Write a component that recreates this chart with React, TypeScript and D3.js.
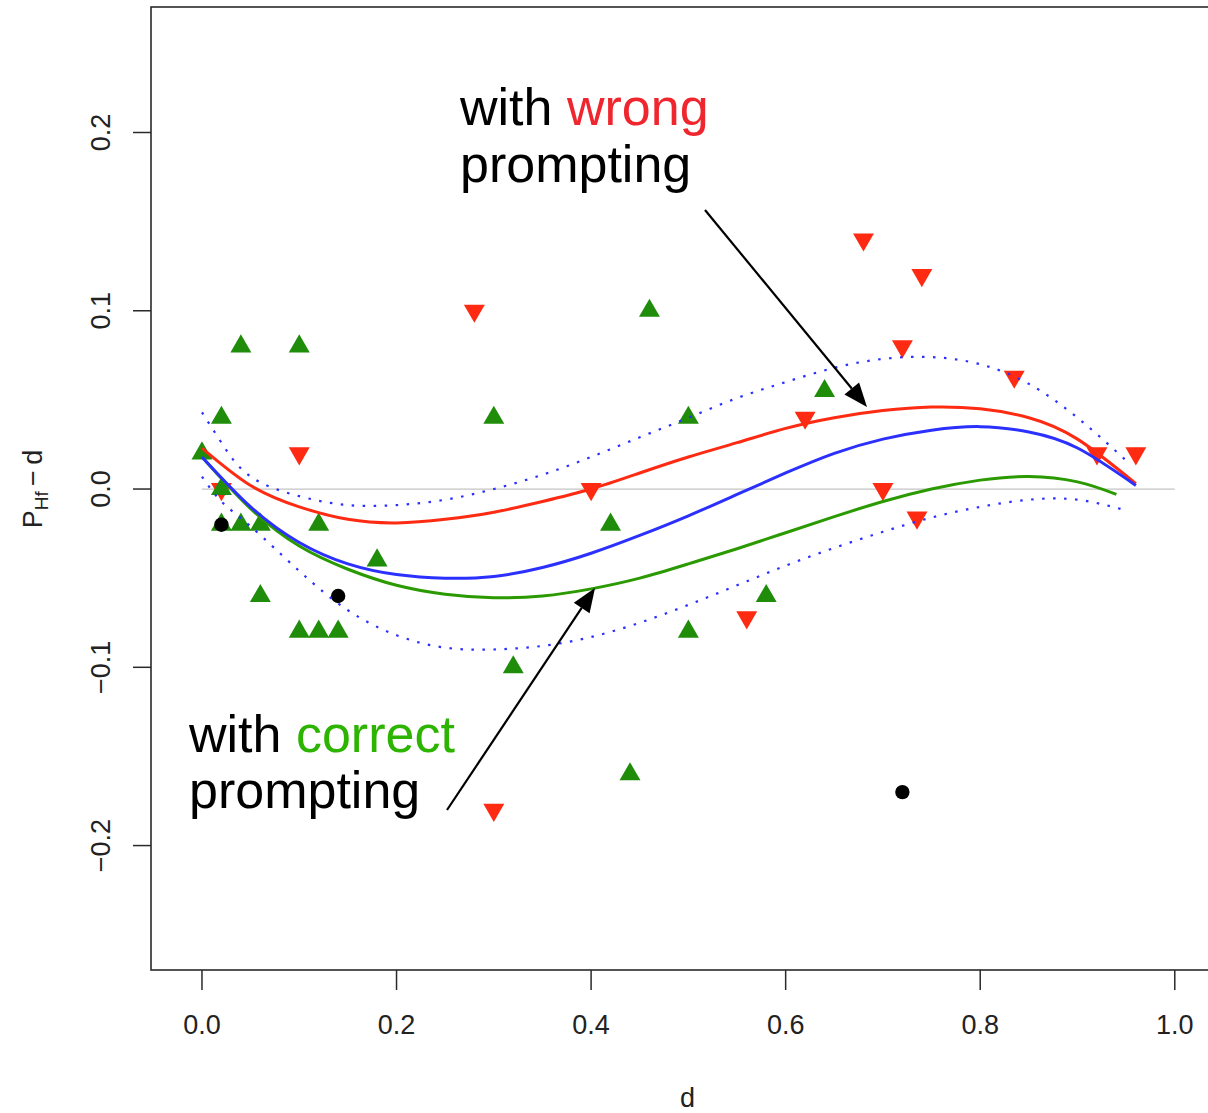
import React from "react";
import * as d3 from "d3";

// ---------- data ----------
const xTicks = [0, 0.2, 0.4, 0.6, 0.8, 1.0];
const xTickLabels = ["0.0", "0.2", "0.4", "0.6", "0.8", "1.0"];
const yTicks = [-0.2, -0.1, 0, 0.1, 0.2];
const yTickLabels = ["\u22120.2", "\u22120.1", "0.0", "0.1", "0.2"];

const wrongD = [0.02, 0.10, 0.28, 0.30, 0.40, 0.56, 0.62, 0.68, 0.70, 0.72, 0.735, 0.74, 0.835, 0.92, 0.96];
const wrongV = [0.0, 0.02, 0.10, -0.18, 0.0, -0.072, 0.04, 0.14, 0.0, 0.08, -0.016, 0.12, 0.063, 0.02, 0.02];

const correctD = [0.0, 0.02, 0.04, 0.10, 0.02, 0.02, 0.04, 0.06, 0.06, 0.10, 0.12, 0.14, 0.12, 0.18, 0.30, 0.32, 0.42, 0.44, 0.46, 0.50, 0.50, 0.58, 0.64];
const correctV = [0.02, 0.04, 0.08, 0.08, 0.0, -0.02, -0.02, -0.02, -0.06, -0.08, -0.08, -0.08, -0.02, -0.04, 0.04, -0.10, -0.02, -0.16, 0.10, 0.04, -0.08, -0.06, 0.055];

const noneD = [0.02, 0.14, 0.72];
const noneV = [-0.02, -0.06, -0.17];

const fitD = [0, 0.05, 0.1, 0.15, 0.2, 0.25, 0.3, 0.35, 0.4, 0.45, 0.5, 0.55, 0.6, 0.65, 0.7, 0.75, 0.8, 0.85, 0.9, 0.96];
const blueFit = [0.018, -0.010, -0.030, -0.042, -0.048, -0.050, -0.049, -0.044, -0.036, -0.026, -0.015, -0.003, 0.009, 0.020, 0.028, 0.033, 0.035, 0.032, 0.023, 0.002];
const redFit = [0.023, 0.002, -0.010, -0.017, -0.019, -0.017, -0.013, -0.007, 0.000, 0.009, 0.018, 0.026, 0.034, 0.040, 0.044, 0.046, 0.045, 0.040, 0.028, 0.003];

const greenD = [0, 0.05, 0.1, 0.15, 0.2, 0.25, 0.3, 0.35, 0.4, 0.45, 0.5, 0.55, 0.6, 0.65, 0.7, 0.75, 0.8, 0.85, 0.9, 0.94];
const greenFit = [0.018, -0.011, -0.032, -0.045, -0.054, -0.059, -0.061, -0.060, -0.056, -0.050, -0.042, -0.0335, -0.0245, -0.0155, -0.007, 0.000, 0.005, 0.007, 0.004, -0.003];

const bandD = [0, 0.02, 0.05, 0.1, 0.15, 0.2, 0.25, 0.3, 0.35, 0.4, 0.45, 0.5, 0.55, 0.6, 0.65, 0.7, 0.75, 0.8, 0.85, 0.9, 0.95];
const bandUpper = [0.043, 0.026, 0.007, -0.004, -0.009, -0.009, -0.006, 0.0, 0.008, 0.018, 0.029, 0.040, 0.051, 0.060, 0.068, 0.073, 0.074, 0.070, 0.059, 0.040, 0.016];
const bandLower = [0.007, -0.007, -0.021, -0.046, -0.068, -0.082, -0.089, -0.090, -0.088, -0.083, -0.075, -0.065, -0.054, -0.043, -0.033, -0.024, -0.016, -0.010, -0.006, -0.006, -0.012];

// ---------- layout ----------
const W = 1208;
const H = 1113;
const LEFT = 151;
const RIGHT = 1224;
const TOP = 7;
const BOTTOM = 970;

const RED = "#ff2a12";
const GREEN = "#1f8c0a";
const GREEN_LINE = "#2a9a00";
const BLUE = "#2b30ff";

export default function App() {
  const x = d3.scaleLinear().domain([-0.0524, 1.0506]).range([LEFT, RIGHT]);
  const y = d3.scaleLinear().domain([-0.2698, 0.2704]).range([BOTTOM, TOP]);

  const mk = (ds: number[], vs: number[]) => {
    const line = d3
      .line<number>()
      .x((_, i) => x(ds[i]))
      .y((v) => y(v))
      .curve(d3.curveNatural);
    return line(vs) || "";
  };

  const tri = d3.symbol(d3.symbolTriangle, 190)() || "";

  const arrow = (x1: number, y1: number, x2: number, y2: number) => {
    const ang = Math.atan2(y2 - y1, x2 - x1);
    const len = 24;
    const hw = 9.5;
    const bx = x2 - len * Math.cos(ang);
    const by = y2 - len * Math.sin(ang);
    const px = -Math.sin(ang) * hw;
    const py = Math.cos(ang) * hw;
    return (
      <g>
        <line x1={x1} y1={y1} x2={bx} y2={by} stroke="#000" strokeWidth={2.2} />
        <polygon points={`${x2},${y2} ${bx + px},${by + py} ${bx - px},${by - py}`} fill="#000" />
      </g>
    );
  };

  const font = "'Liberation Sans', Arial, Helvetica, sans-serif";

  return (
    <svg
      width={W}
      height={H}
      viewBox={`0 0 ${W} ${H}`}
      style={{ position: "absolute", left: 0, top: 0, background: "#fff" }}
      fontFamily={font}
    >
      <rect x={0} y={0} width={W} height={H} fill="#fff" />

      {/* zero line */}
      <line x1={x(0)} x2={x(1)} y1={y(0)} y2={y(0)} stroke="#c4c4c4" strokeWidth={1.2} />

      {/* points */}
      {wrongD.map((d, i) => (
        <path key={"r" + i} d={tri} transform={`translate(${x(d)},${y(wrongV[i])}) rotate(180)`} fill={RED} />
      ))}
      {correctD.map((d, i) => (
        <path key={"g" + i} d={tri} transform={`translate(${x(d)},${y(correctV[i])})`} fill={GREEN} />
      ))}
      {noneD.map((d, i) => (
        <circle key={"b" + i} cx={x(d)} cy={y(noneV[i])} r={7.2} fill="#000" />
      ))}

      {/* confidence band */}
      <path d={mk(bandD, bandUpper)} fill="none" stroke={BLUE} strokeWidth={2.2} strokeDasharray="2.5 8.5" />
      <path d={mk(bandD, bandLower)} fill="none" stroke={BLUE} strokeWidth={2.2} strokeDasharray="2.5 8.5" />

      {/* fits */}
      <path d={mk(fitD, redFit)} fill="none" stroke={RED} strokeWidth={3} />
      <path d={mk(greenD, greenFit)} fill="none" stroke={GREEN_LINE} strokeWidth={3} />
      <path d={mk(fitD, blueFit)} fill="none" stroke={BLUE} strokeWidth={3} />

      {/* box */}
      <rect x={LEFT} y={TOP} width={RIGHT - LEFT} height={BOTTOM - TOP} fill="none" stroke="#2a2a2a" strokeWidth={1.6} />

      {/* x axis */}
      {xTicks.map((t, i) => (
        <g key={"xt" + i}>
          <line x1={x(t)} x2={x(t)} y1={BOTTOM} y2={BOTTOM + 20} stroke="#2a2a2a" strokeWidth={1.5} />
          <text x={x(t)} y={1034} textAnchor="middle" fontSize={27} fill="#222">
            {xTickLabels[i]}
          </text>
        </g>
      ))}
      <text x={(LEFT + RIGHT) / 2} y={1107} textAnchor="middle" fontSize={27} fill="#222">
        d
      </text>

      {/* y axis */}
      {yTicks.map((t, i) => (
        <g key={"yt" + i}>
          <line x1={LEFT - 18} x2={LEFT} y1={y(t)} y2={y(t)} stroke="#2a2a2a" strokeWidth={1.5} />
          <text transform={`translate(110,${y(t)}) rotate(-90)`} textAnchor="middle" fontSize={27} fill="#222">
            {yTickLabels[i]}
          </text>
        </g>
      ))}
      <text transform={`translate(42,${y(0)}) rotate(-90)`} textAnchor="middle" fontSize={27} fill="#222">
        P
        <tspan fontSize={19} dy={6}>
          Hf
        </tspan>
        <tspan dy={-6}>{"\u2009\u2212\u2009d"}</tspan>
      </text>

      {/* annotations */}
      <text x={460} y={125} fontSize={52} fill="#000">
        with <tspan fill="#f0262e">wrong</tspan>
      </text>
      <text x={460} y={182} fontSize={52} fill="#000">
        prompting
      </text>
      <text x={189} y={752} fontSize={52} fill="#000">
        with <tspan fill="#2db400">correct</tspan>
      </text>
      <text x={189} y={808} fontSize={52} fill="#000">
        prompting
      </text>

      {arrow(705, 210, 867, 407)}
      {arrow(447, 810, 595, 588)}
    </svg>
  );
}
